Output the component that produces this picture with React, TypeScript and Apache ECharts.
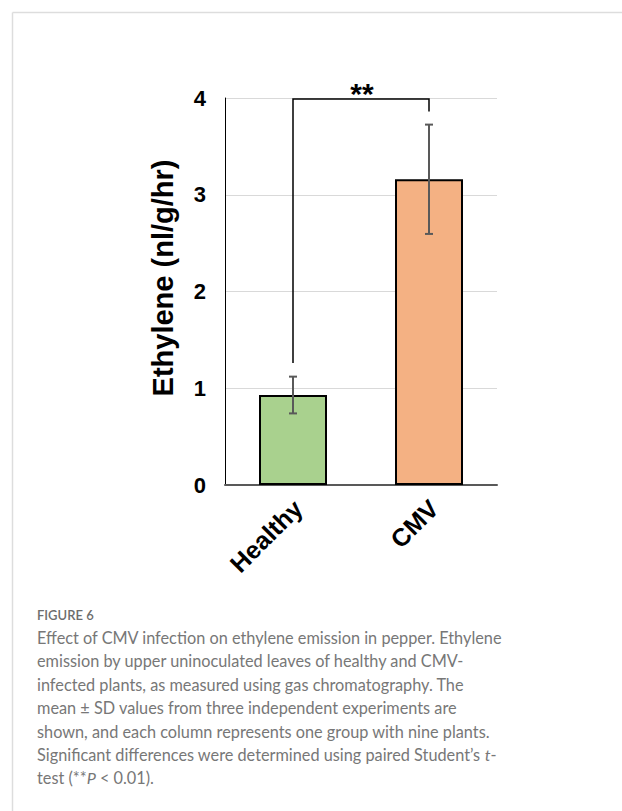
import React, { useEffect, useRef } from "react";
import * as echarts from "echarts";

const categories = ["Healthy", "CMV"];
const means = [0.93, 3.16];
const sds = [0.19, 0.565];
const barColors = ["#a9d18e", "#f4b183"];
const yTicks = [0, 1, 2, 3, 4];
// significance bracket: [leftLegBottom, top, rightLegBottom]
const bracket = [1.26, 3.99, 3.86];
const sigLabel = "**";
const yTitle = "Ethylene (nl/g/hr)";
const figureLabel = "FIGURE 6";
const captionLines = [
  "Effect of CMV infection on ethylene emission in pepper. Ethylene",
  "emission by upper uninoculated leaves of healthy and CMV-",
  "infected plants, as measured using gas chromatography. The",
  "mean \u00b1 SD values from three independent experiments are",
  "shown, and each column represents one group with nine plants.",
  "Significant differences were determined using paired Student\u2019s {i|t}-",
  "test (**{i|P} < 0.01).",
];

export default function App() {
  const ref = useRef<HTMLDivElement>(null);
  useEffect(() => {
    if (!ref.current) return;
    const chart = echarts.init(ref.current, undefined, { renderer: "svg" });
    const capFont = "Lato, 'Open Sans', sans-serif";
    const arial = "'Liberation Sans', Arial, sans-serif";
    const option: any = {
      animation: false,
      backgroundColor: "#ffffff",
      textStyle: { fontFamily: arial },
      grid: { left: 225, right: 125, top: 98, bottom: 326 },
      xAxis: {
        type: "category",
        data: categories,
        axisLine: { show: true, lineStyle: { color: "#595959", width: 2 } },
        axisTick: { show: false },
        axisLabel: { show: false },
      },
      yAxis: {
        type: "value",
        min: 0,
        max: 4,
        interval: 1,
        axisLine: { show: true, lineStyle: { color: "#000", width: 1 } },
        axisTick: { show: false },
        splitLine: { lineStyle: { color: "#d9d9d9", width: 1 } },
        axisLabel: {
          margin: 19,
          fontSize: 22,
          fontWeight: "bold",
          color: "#000",
          fontFamily: arial,
          formatter: (v: number) => (yTicks.includes(v) ? String(v) : ""),
        },
      },
      series: [
        {
          type: "bar",
          barWidth: "50%",
          data: means.map((v, i) => ({
            value: v,
            itemStyle: { color: barColors[i], borderColor: "#000", borderWidth: 2 },
          })),
          z: 2,
        },
        {
          type: "custom",
          z: 3,
          data: means.map((m, i) => [i, m - sds[i], m + sds[i]]),
          renderItem: (params: any, api: any) => {
            const lo = api.coord([api.value(0), api.value(1)]);
            const hi = api.coord([api.value(0), api.value(2)]);
            const cw = 4;
            const st = { stroke: "#595959", lineWidth: 2 };
            return {
              type: "group",
              children: [
                { type: "line", shape: { x1: lo[0], y1: lo[1], x2: hi[0], y2: hi[1] }, style: st },
                { type: "line", shape: { x1: lo[0] - cw, y1: lo[1], x2: lo[0] + cw, y2: lo[1] }, style: st },
                { type: "line", shape: { x1: hi[0] - cw, y1: hi[1], x2: hi[0] + cw, y2: hi[1] }, style: st },
              ],
            };
          },
        },
        {
          // rotated category labels
          type: "custom",
          z: 5,
          clip: false,
          data: categories.map((c, i) => [i, 0]),
          renderItem: (params: any, api: any) => {
            const p = api.coord([api.value(0), 0]);
            return {
              type: "text",
              x: p[0] + 5,
              y: p[1] + 19,
              rotation: Math.PI / 4,
              style: {
                text: categories[params.dataIndex],
                fontSize: 25,
                fontWeight: "bold",
                fontFamily: arial,
                fill: "#000",
                align: "right",
                verticalAlign: "middle",
              },
            };
          },
        },
        {
          type: "custom",
          z: 4,
          clip: false,
          data: [[0, 1, bracket[0], bracket[1], bracket[2]]],
          renderItem: (params: any, api: any) => {
            const a = api.coord([api.value(0), api.value(2)]);
            const b = api.coord([api.value(0), api.value(3)]);
            const c = api.coord([api.value(1), api.value(3)]);
            const d = api.coord([api.value(1), api.value(4)]);
            return {
              type: "group",
              children: [
                {
                  type: "polyline",
                  shape: { points: [a, b, c, d] },
                  style: { stroke: "#000", lineWidth: 1.5, fill: null },
                },
                {
                  type: "text",
                  x: (b[0] + c[0]) / 2 + 1,
                  y: b[1] - 5,
                  style: {
                    text: sigLabel,
                    fontSize: 30,
                    fontWeight: "bold",
                    fontFamily: arial,
                    fill: "#000",
                    align: "center",
                    verticalAlign: "middle",
                  },
                },
              ],
            };
          },
        },
      ],
      graphic: [
        { type: "line", shape: { x1: 12.5, y1: 12.5, x2: 622, y2: 12.5 }, style: { stroke: "#dddddd", lineWidth: 1.5 } },
        { type: "line", shape: { x1: 12.5, y1: 12.5, x2: 12.5, y2: 811 }, style: { stroke: "#dddddd", lineWidth: 1.5 } },
        {
          type: "text",
          x: 163,
          y: 278,
          rotation: Math.PI / 2,
          style: {
            text: yTitle,
            fontSize: 29,
            fontWeight: "bold",
            fontFamily: arial,
            fill: "#000",
            align: "center",
            verticalAlign: "middle",
          },
        },
        {
          type: "text",
          x: 37,
          y: 615,
          style: {
            text: figureLabel,
            fontSize: 13,
            fontWeight: 600,
            fontFamily: capFont,
            fill: "#6d6d6d",
            verticalAlign: "middle",
          },
        },
        ...captionLines.map((t, i) => ({
          type: "text",
          x: 37,
          y: 637.5 + i * 23.4,
          style: {
            text: t,
            fontSize: 16.3,
            fontFamily: capFont,
            fill: "#777777",
            verticalAlign: "middle",
            rich: {
              i: { fontStyle: "italic", fontSize: 16.3, fontFamily: capFont, fill: "#777777" },
            },
          },
        })),
      ],
    };
    chart.setOption(option);
    return () => chart.dispose();
  }, []);
  return (
    <div
      ref={ref}
      style={{ position: "absolute", left: 0, top: 0, width: 622, height: 811 }}
    />
  );
}
